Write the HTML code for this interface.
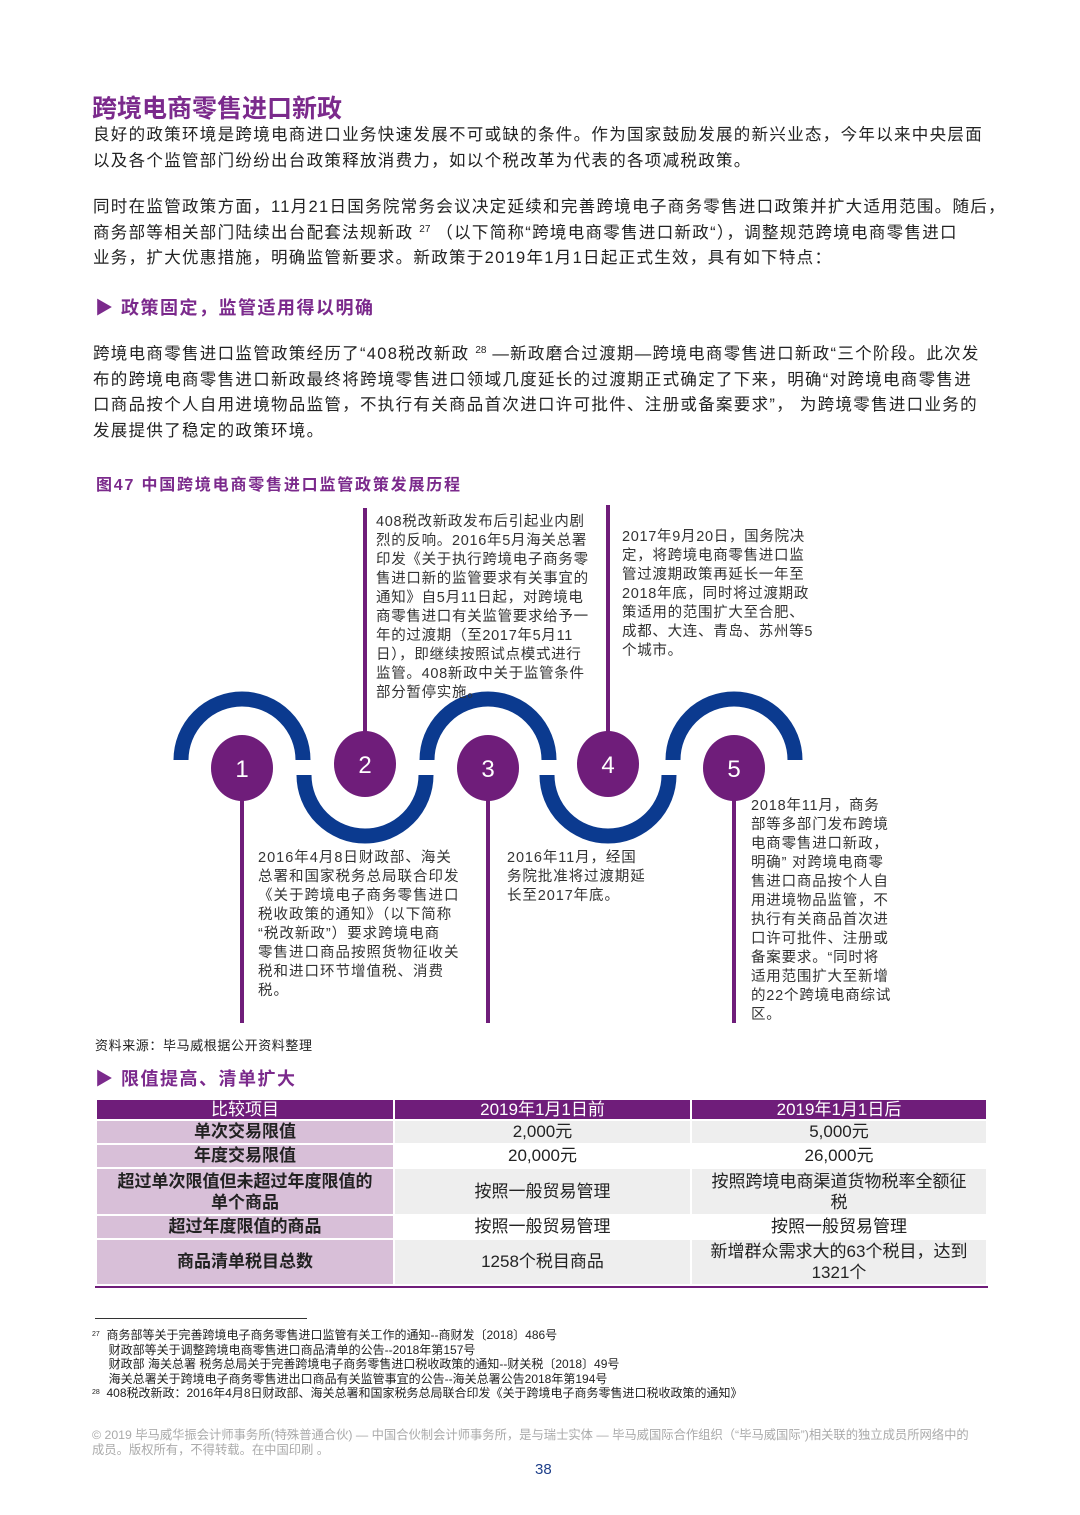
<!DOCTYPE html>
<html><head><meta charset="utf-8"><style>
*{margin:0;padding:0;box-sizing:border-box}
body{width:1080px;height:1515px;background:#fff;position:relative;font-family:"Liberation Sans","Noto Sans CJK SC",sans-serif;color:#222;overflow:hidden}
.a{position:absolute;white-space:nowrap}
.p{font-size:16.5px;line-height:25.5px;color:#222;letter-spacing:1.3px}
.h{color:#7b2a8c;font-weight:bold}
.t{font-size:14.5px;line-height:19px;color:#333;letter-spacing:0.7px}
.fn{font-size:12px;line-height:14.5px;color:#222}
.s{font-size:10px;position:relative;top:-6px;line-height:0;letter-spacing:0}
table{position:absolute;left:95px;top:1098px;width:893px;border-collapse:separate;border-spacing:2px;font-size:17px;text-align:center}
td{padding:0;line-height:20px;overflow:hidden}
th{background:#6f1d7a;color:#fff;font-weight:normal;height:19px;font-size:17px;line-height:19px;padding:0}
td.l{background:#d8bfd8;font-weight:bold;color:#222}
td.v{background:#eeeeee}
</style></head><body>
<div class="a h" style="left:92px;top:89px;font-size:25px">跨境电商零售进口新政</div>
<div class="a p" style="left:93px;top:123px">良好的政策环境是跨境电商进口业务快速发展不可或缺的条件。作为国家鼓励发展的新兴业态，今年以来中央层面<br>以及各个监管部门纷纷出台政策释放消费力，如以个税改革为代表的各项减税政策。</div>
<div class="a p" style="left:93px;top:195px">同时在监管政策方面，11月21日国务院常务会议决定延续和完善跨境电子商务零售进口政策并扩大适用范围。随后，<br>商务部等相关部门陆续出台配套法规新政 <span class="s">27</span> （以下简称“跨境电商零售进口新政“），调整规范跨境电商零售进口<br>业务，扩大优惠措施，明确监管新要求。新政策于2019年1月1日起正式生效，具有如下特点：</div>
<div class="a h" style="left:95px;top:294px;font-size:18px;letter-spacing:1.5px">▶ 政策固定，监管适用得以明确</div>
<div class="a p" style="left:93px;top:342px">跨境电商零售进口监管政策经历了“408税改新政 <span class="s">28</span> —新政磨合过渡期—跨境电商零售进口新政“三个阶段。此次发<br>布的跨境电商零售进口新政最终将跨境零售进口领域几度延长的过渡期正式确定了下来，明确“对跨境电商零售进<br>口商品按个人自用进境物品监管，不执行有关商品首次进口许可批件、注册或备案要求”， 为跨境零售进口业务的<br>发展提供了稳定的政策环境。</div>
<div class="a h" style="left:96px;top:471px;font-size:16px;letter-spacing:1.8px">图47 中国跨境电商零售进口监管政策发展历程</div>

<svg class="a" style="left:0;top:0" width="1080" height="1100">
<g fill="none" stroke="#0b3a8f" stroke-width="15">
<path d="M181,760 A61,61 0 0 1 303,760"/>
<path d="M304,775 A61,61 0 0 0 426,775"/>
<path d="M427,760 A61,61 0 0 1 549,760"/>
<path d="M547,775 A61,61 0 0 0 669,775"/>
<path d="M673,760 A61,61 0 0 1 795,760"/>
</g>
<g stroke="#6f1d7a" stroke-width="4">
<line x1="242" y1="768" x2="242" y2="1023"/>
<line x1="365" y1="764" x2="365" y2="508"/>
<line x1="488" y1="768" x2="488" y2="1023"/>
<line x1="608" y1="764" x2="608" y2="505"/>
<line x1="734" y1="768" x2="734" y2="1023"/>
</g>
<g fill="#6f1d7a">
<ellipse cx="242" cy="768" rx="31" ry="33"/>
<ellipse cx="365" cy="764" rx="31" ry="33"/>
<ellipse cx="488" cy="768" rx="31" ry="33"/>
<ellipse cx="608" cy="764" rx="31" ry="33"/>
<ellipse cx="734" cy="768" rx="31" ry="33"/>
</g>
<g fill="#fff" font-family="Liberation Sans,sans-serif" font-size="24" text-anchor="middle">
<text x="242" y="777">1</text><text x="365" y="773">2</text><text x="488" y="777">3</text><text x="608" y="773">4</text><text x="734" y="777">5</text>
</g>
</svg>

<div class="a t" style="left:376px;top:513px">408税改新政发布后引起业内剧<br>烈的反响。2016年5月海关总署<br>印发《关于执行跨境电子商务零<br>售进口新的监管要求有关事宜的<br>通知》自5月11日起，对跨境电<br>商零售进口有关监管要求给予一<br>年的过渡期（至2017年5月11<br>日），即继续按照试点模式进行<br>监管。408新政中关于监管条件<br>部分暂停实施。</div>
<div class="a t" style="left:622px;top:528px">2017年9月20日，国务院决<br>定，将跨境电商零售进口监<br>管过渡期政策再延长一年至<br>2018年底，同时将过渡期政<br>策适用的范围扩大至合肥、<br>成都、大连、青岛、苏州等5<br>个城市。</div>
<div class="a t" style="left:258px;top:849px;letter-spacing:1px">2016年4月8日财政部、海关<br>总署和国家税务总局联合印发<br>《关于跨境电子商务零售进口<br>税收政策的通知》（以下简称<br>“税改新政”）要求跨境电商<br>零售进口商品按照货物征收关<br>税和进口环节增值税、消费<br>税。</div>
<div class="a t" style="left:507px;top:849px;letter-spacing:0.9px">2016年11月，经国<br>务院批准将过渡期延<br>长至2017年底。</div>
<div class="a t" style="left:751px;top:797px;letter-spacing:0.8px">2018年11月，商务<br>部等多部门发布跨境<br>电商零售进口新政，<br>明确” 对跨境电商零<br>售进口商品按个人自<br>用进境物品监管，不<br>执行有关商品首次进<br>口许可批件、注册或<br>备案要求。“同时将<br>适用范围扩大至新增<br>的22个跨境电商综试<br>区。</div>
<div class="a" style="left:95px;top:1035px;font-size:13px;color:#222;letter-spacing:0.6px">资料来源：毕马威根据公开资料整理</div>
<div class="a h" style="left:95px;top:1065px;font-size:18px;letter-spacing:1.5px">▶ 限值提高、清单扩大</div>

<table>
<tr><th style="width:296px">比较项目</th><th style="width:295px">2019年1月1日前</th><th>2019年1月1日后</th></tr>
<tr style="height:22px"><td class="l">单次交易限值</td><td class="v">2,000元</td><td class="v">5,000元</td></tr>
<tr style="height:22px"><td class="l">年度交易限值</td><td class="v" style="background:#fff">20,000元</td><td class="v" style="background:#fff">26,000元</td></tr>
<tr style="height:45px"><td class="l" style="line-height:21px">超过单次限值但未超过年度限值的<br>单个商品</td><td class="v">按照一般贸易管理</td><td class="v" style="line-height:21px">按照跨境电商渠道货物税率全额征<br>税</td></tr>
<tr style="height:22px"><td class="l">超过年度限值的商品</td><td class="v" style="background:#fff">按照一般贸易管理</td><td class="v" style="background:#fff">按照一般贸易管理</td></tr>
<tr style="height:44px"><td class="l">商品清单税目总数</td><td class="v">1258个税目商品</td><td class="v" style="line-height:21px">新增群众需求大的63个税目，达到<br>1321个</td></tr>
</table>
<div class="a" style="left:95px;top:1286px;width:893px;height:2px;background:#6f1d7a"></div>

<div class="a" style="left:95px;top:1318px;width:212px;height:1px;background:#333"></div>
<div class="a fn" style="left:92px;top:1328px"><span style="font-size:7px;vertical-align:top">27</span>&nbsp; 商务部等关于完善跨境电子商务零售进口监管有关工作的通知--商财发〔2018〕486号<br>&nbsp;&nbsp;&nbsp;&nbsp; 财政部等关于调整跨境电商零售进口商品清单的公告--2018年第157号<br>&nbsp;&nbsp;&nbsp;&nbsp; 财政部 海关总署 税务总局关于完善跨境电子商务零售进口税收政策的通知--财关税〔2018〕49号<br>&nbsp;&nbsp;&nbsp;&nbsp; 海关总署关于跨境电子商务零售进出口商品有关监管事宜的公告--海关总署公告2018年第194号<br><span style="font-size:7px;vertical-align:top">28</span>&nbsp; 408税改新政：2016年4月8日财政部、海关总署和国家税务总局联合印发《关于跨境电子商务零售进口税收政策的通知》</div>
<div class="a" style="left:92px;top:1428px;font-size:12.3px;line-height:15px;color:#aaa">© 2019 毕马威华振会计师事务所(特殊普通合伙) — 中国合伙制会计师事务所，是与瑞士实体 — 毕马威国际合作组织（“毕马威国际”)相关联的独立成员所网络中的<br>成员。版权所有，不得转载。在中国印刷 。</div>
<div class="a" style="left:535px;top:1461px;font-size:15px;color:#1e3f8a">38</div>
</body></html>
